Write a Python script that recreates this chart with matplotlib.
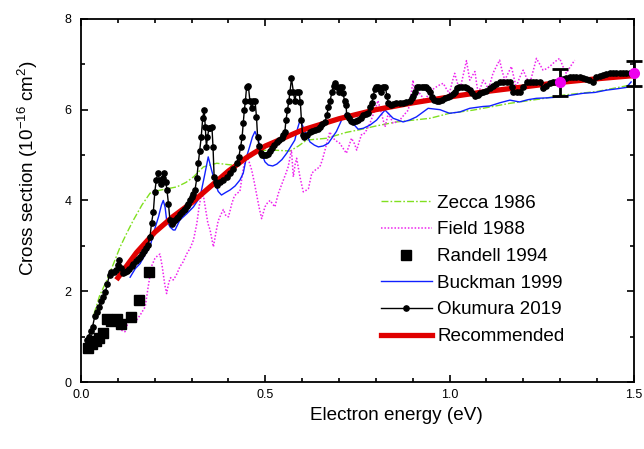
import matplotlib
matplotlib.use("Agg")
import matplotlib.pyplot as plt
from matplotlib.ticker import MultipleLocator, FormatStrFormatter

plt.rcParams['font.family'] = ['Liberation Sans', 'DejaVu Sans']
plt.rcParams['mathtext.fontset'] = 'custom'
plt.rcParams['mathtext.rm'] = 'Liberation Sans'

# --- data ---
zecca_x = [0.035, 0.05, 0.07, 0.09, 0.106, 0.125, 0.142, 0.165, 0.187, 0.21, 0.235, 0.26,
           0.285, 0.305, 0.332, 0.368, 0.41, 0.435, 0.46, 0.48, 0.52, 0.567, 0.59, 0.612,
           0.666, 0.72, 0.757, 0.8, 0.856, 0.947, 1.0, 1.064, 1.164, 1.25, 1.308, 1.4, 1.49]
zecca_y = [1.5, 1.9, 2.25, 2.65, 2.98, 3.3, 3.57, 3.9, 4.16, 4.22, 4.26, 4.3,
           4.4, 4.52, 4.74, 4.82, 4.78, 4.85, 4.96, 5.1, 5.11, 5.09, 5.2, 5.33,
           5.37, 5.5, 5.56, 5.64, 5.73, 5.81, 5.92, 5.99, 6.14, 6.24, 6.32, 6.4, 6.54]

field_x = [0.101, 0.110, 0.119, 0.127, 0.133, 0.142, 0.151, 0.162, 0.174, 0.182, 0.191, 0.200,
           0.207, 0.214, 0.220, 0.227, 0.232, 0.238, 0.243, 0.250, 0.258, 0.268, 0.277, 0.287,
           0.296, 0.305, 0.314, 0.320, 0.325, 0.332, 0.338, 0.344, 0.350, 0.359, 0.366, 0.372,
           0.380, 0.386, 0.393, 0.400, 0.409, 0.416, 0.422, 0.431, 0.440, 0.449, 0.456, 0.463,
           0.470, 0.476, 0.483, 0.490, 0.499, 0.506, 0.513, 0.520, 0.526, 0.535, 0.542, 0.549,
           0.556, 0.562, 0.567, 0.571, 0.576, 0.581, 0.585, 0.590, 0.594, 0.603, 0.610, 0.617,
           0.626, 0.637, 0.648, 0.655, 0.662, 0.668, 0.675, 0.682, 0.689, 0.702, 0.711, 0.720,
           0.727, 0.734, 0.742, 0.748, 0.755, 0.761, 0.766, 0.775, 0.784, 0.791, 0.797, 0.806,
           0.815, 0.825, 0.834, 0.847, 0.856, 0.865, 0.876, 0.888, 0.895, 0.901, 0.906, 0.912,
           0.919, 0.926, 0.933, 0.940, 0.947, 0.955, 0.964, 0.974, 0.983, 0.992, 1.000, 1.007,
           1.014, 1.021, 1.028, 1.037, 1.046, 1.055, 1.062, 1.069, 1.074, 1.078, 1.085, 1.091,
           1.100, 1.105, 1.118, 1.127, 1.136, 1.143, 1.150, 1.159, 1.168, 1.175, 1.181, 1.190,
           1.200, 1.209, 1.218, 1.227, 1.236, 1.245, 1.254, 1.263, 1.272, 1.285, 1.299, 1.308,
           1.317, 1.328, 1.340]
field_y = [1.18, 1.14, 1.11, 1.30, 1.37, 1.37, 1.37, 1.50, 1.66, 2.10, 2.55, 2.72,
           2.78, 2.82, 2.55, 2.15, 1.95, 2.20, 2.30, 2.25, 2.35, 2.54, 2.65, 2.83,
           2.95, 3.13, 3.49, 3.85, 4.08, 4.10, 3.80, 3.50, 3.35, 2.98, 3.30, 3.55,
           3.70, 3.80, 3.66, 3.64, 3.93, 4.10, 4.15, 4.20, 4.70, 5.00, 4.85, 4.67,
           4.40, 4.15, 3.85, 3.60, 3.86, 3.95, 4.00, 3.92, 3.86, 4.15, 4.30, 4.45,
           4.60, 4.74, 4.95, 5.11, 4.52, 4.80, 4.93, 4.70, 4.52, 4.19, 4.22, 4.26,
           4.60, 4.68, 4.74, 4.90, 5.11, 5.30, 5.51, 5.40, 5.33, 5.26, 5.15, 5.04,
           5.20, 5.37, 5.25, 5.11, 5.30, 5.45, 5.45, 5.55, 5.70, 5.85, 5.99, 6.20,
           5.92, 5.62, 5.92, 5.70, 5.73, 5.77, 5.88, 5.99, 6.30, 6.65, 6.29, 6.32,
           6.36, 6.28, 6.20, 6.30, 6.36, 6.45, 6.50, 6.55, 6.58, 6.45, 6.36, 6.60,
           6.80, 6.60, 6.43, 6.75, 7.08, 6.65, 6.75, 6.84, 6.55, 6.36, 6.50, 6.65,
           6.55, 6.43, 6.80, 6.95, 7.09, 6.85, 6.65, 6.80, 6.95, 6.70, 6.50, 6.70,
           6.87, 6.70, 6.58, 6.85, 7.13, 7.00, 6.87, 6.90, 6.95, 7.05, 7.13, 6.95,
           6.80, 6.95, 7.09]

randell_x = [0.019, 0.030, 0.039, 0.048, 0.059, 0.070, 0.082, 0.098, 0.109, 0.135, 0.158, 0.184]
randell_y = [0.76, 0.84, 0.91, 0.98, 1.09, 1.39, 1.34, 1.38, 1.28, 1.44, 1.81, 2.42]

buckman_x = [0.133, 0.147, 0.16, 0.173, 0.187, 0.196, 0.21, 0.218, 0.223, 0.228, 0.232, 0.241,
             0.25, 0.255, 0.268, 0.287, 0.305, 0.323, 0.336, 0.345, 0.354, 0.363, 0.372, 0.381,
             0.393, 0.404, 0.418, 0.431, 0.44, 0.449, 0.458, 0.465, 0.472, 0.481, 0.49, 0.499,
             0.508, 0.52, 0.531, 0.545, 0.558, 0.58, 0.588, 0.594, 0.601, 0.608, 0.621, 0.633,
             0.644, 0.657, 0.671, 0.693, 0.707, 0.719, 0.734, 0.752, 0.766, 0.784, 0.802, 0.815,
             0.825, 0.836, 0.847, 0.874, 0.891, 0.91, 0.942, 0.974, 1.0, 1.028, 1.055, 1.091,
             1.109, 1.136, 1.164, 1.19, 1.213, 1.236, 1.265, 1.299, 1.33, 1.362, 1.395, 1.426,
             1.455, 1.48, 1.493]
buckman_y = [2.31, 2.5, 2.61, 2.8, 2.98, 3.27, 3.64, 3.9, 4.0, 3.85, 3.57, 3.42,
             3.35, 3.35, 3.57, 3.71, 3.86, 4.08, 4.59, 4.96, 4.67, 4.41, 4.2, 4.12,
             4.18, 4.23, 4.32, 4.45, 4.6, 4.96, 5.2, 5.4, 5.52, 5.33, 5.04, 4.85,
             4.78, 4.76, 4.8, 4.9, 5.04, 5.33, 5.6, 5.76, 5.65, 5.52, 5.29, 5.22,
             5.18, 5.2, 5.26, 5.52, 5.77, 5.92, 5.73, 5.57, 5.59, 5.66, 5.77, 5.9,
             5.99, 5.9, 5.81, 5.73, 5.77, 5.84, 6.03, 6.0, 5.92, 5.95, 6.03, 6.07,
             6.08, 6.15, 6.21, 6.17, 6.22, 6.25, 6.26, 6.28, 6.32, 6.36, 6.38, 6.43,
             6.46, 6.49, 6.61]

okumura_x = [0.015, 0.020, 0.026, 0.031, 0.037, 0.043, 0.048, 0.054, 0.060, 0.066, 0.071, 0.077,
             0.082, 0.088, 0.094, 0.099, 0.104, 0.109, 0.114, 0.120, 0.125, 0.131, 0.137, 0.142,
             0.148, 0.153, 0.159, 0.164, 0.170, 0.176, 0.181, 0.187, 0.191, 0.196, 0.200, 0.204,
             0.208, 0.213, 0.217, 0.221, 0.226, 0.230, 0.233, 0.237, 0.241, 0.246, 0.250, 0.255,
             0.260, 0.264, 0.269, 0.273, 0.278, 0.282, 0.287, 0.291, 0.296, 0.300, 0.305, 0.309,
             0.314, 0.318, 0.322, 0.326, 0.330, 0.334, 0.337, 0.340, 0.343, 0.347, 0.351, 0.355,
             0.358, 0.361, 0.365, 0.368, 0.377, 0.386, 0.395, 0.404, 0.413, 0.422, 0.428, 0.433,
             0.437, 0.440, 0.443, 0.446, 0.449, 0.454, 0.458, 0.463, 0.467, 0.472, 0.476, 0.479,
             0.483, 0.487, 0.492, 0.497, 0.503, 0.508, 0.513, 0.518, 0.524, 0.531, 0.537, 0.544,
             0.549, 0.553, 0.556, 0.560, 0.564, 0.567, 0.571, 0.576, 0.580, 0.585, 0.591, 0.595,
             0.598, 0.601, 0.606, 0.612, 0.621, 0.628, 0.635, 0.642, 0.648, 0.655, 0.662, 0.667,
             0.671, 0.676, 0.681, 0.686, 0.690, 0.695, 0.700, 0.704, 0.708, 0.711, 0.715, 0.719,
             0.721, 0.726, 0.732, 0.739, 0.746, 0.752, 0.759, 0.766, 0.773, 0.779, 0.785, 0.789,
             0.793, 0.797, 0.801, 0.806, 0.811, 0.815, 0.820, 0.826, 0.830, 0.834, 0.840, 0.847,
             0.856, 0.865, 0.874, 0.883, 0.892, 0.897, 0.901, 0.906, 0.911, 0.918, 0.924, 0.931,
             0.937, 0.942, 0.947, 0.952, 0.958, 0.965, 0.972, 0.980, 0.988, 0.995, 1.002, 1.009,
             1.014, 1.020, 1.027, 1.034, 1.041, 1.048, 1.055, 1.062, 1.069, 1.076, 1.084, 1.091,
             1.100, 1.109, 1.118, 1.127, 1.136, 1.145, 1.155, 1.164, 1.169, 1.173, 1.182, 1.190,
             1.199, 1.209, 1.218, 1.227, 1.236, 1.245, 1.254, 1.263, 1.272, 1.281, 1.290, 1.299,
             1.308, 1.317, 1.326, 1.335, 1.344, 1.353, 1.362, 1.371, 1.380, 1.390, 1.399, 1.408,
             1.417, 1.426, 1.435, 1.444, 1.453, 1.462, 1.471, 1.480, 1.489, 1.498]
okumura_y = [0.92, 1.00, 1.12, 1.22, 1.45, 1.55, 1.66, 1.78, 1.88, 1.98, 2.17, 2.36,
             2.43, 2.43, 2.47, 2.58, 2.69, 2.52, 2.40, 2.42, 2.45, 2.50, 2.56, 2.61,
             2.66, 2.71, 2.76, 2.82, 2.88, 2.95, 3.03, 3.20, 3.50, 3.75, 4.19, 4.45,
             4.60, 4.45, 4.37, 4.50, 4.60, 4.40, 4.23, 3.93, 3.57, 3.49, 3.52, 3.57,
             3.61, 3.64, 3.70, 3.75, 3.79, 3.82, 3.88, 3.93, 4.00, 4.08, 4.15, 4.23,
             4.49, 4.82, 5.10, 5.40, 5.81, 6.00, 5.62, 5.18, 5.40, 5.59, 5.60, 5.62,
             5.18, 4.52, 4.41, 4.35, 4.40, 4.45, 4.52, 4.60, 4.70, 4.82, 4.96, 5.18,
             5.40, 5.70, 5.99, 6.20, 6.49, 6.52, 6.20, 6.03, 6.20, 6.20, 5.84, 5.40,
             5.20, 5.05, 5.00, 5.00, 5.00, 5.03, 5.08, 5.15, 5.22, 5.29, 5.33, 5.37,
             5.45, 5.51, 5.77, 5.99, 6.20, 6.40, 6.69, 6.40, 6.20, 6.40, 6.40, 6.17,
             5.77, 5.44, 5.40, 5.45, 5.51, 5.53, 5.55, 5.58, 5.62, 5.68, 5.73, 5.88,
             6.06, 6.20, 6.40, 6.52, 6.58, 6.51, 6.40, 6.51, 6.51, 6.36, 6.20, 6.10,
             5.88, 5.81, 5.76, 5.73, 5.75, 5.77, 5.82, 5.88, 5.90, 5.92, 6.05, 6.15,
             6.30, 6.45, 6.50, 6.50, 6.45, 6.40, 6.50, 6.50, 6.30, 6.14, 6.10, 6.12,
             6.14, 6.14, 6.14, 6.16, 6.20, 6.25, 6.30, 6.40, 6.50, 6.50, 6.50, 6.50,
             6.50, 6.45, 6.38, 6.29, 6.22, 6.20, 6.20, 6.22, 6.25, 6.28, 6.30, 6.35,
             6.40, 6.48, 6.50, 6.50, 6.50, 6.47, 6.43, 6.37, 6.30, 6.33, 6.36, 6.38,
             6.42, 6.48, 6.52, 6.56, 6.60, 6.61, 6.61, 6.60, 6.50, 6.40, 6.40, 6.40,
             6.50, 6.60, 6.61, 6.61, 6.61, 6.60, 6.47, 6.52, 6.58, 6.60, 6.61, 6.64,
             6.68, 6.70, 6.71, 6.71, 6.71, 6.71, 6.70, 6.68, 6.66, 6.61, 6.71, 6.74,
             6.77, 6.79, 6.80, 6.80, 6.80, 6.80, 6.80, 6.80, 6.80, 6.80]

rec_x = [0.1, 0.15, 0.2, 0.25, 0.3, 0.35, 0.4, 0.45, 0.5, 0.6, 0.7, 0.8, 0.9, 1.0,
         1.1, 1.2, 1.3, 1.4, 1.5]
rec_y = [2.3, 2.85, 3.3, 3.65, 3.95, 4.3, 4.65, 4.95, 5.2, 5.55, 5.8, 6.0, 6.15, 6.28,
         6.4, 6.5, 6.6, 6.68, 6.75]

err_x = [1.3, 1.5]
err_y = [6.6, 6.8]
err_e = [0.29, 0.28]

fig = plt.figure(figsize=(6.44, 4.49), dpi=100)
ax = fig.add_axes([0.126, 0.149, 0.858, 0.809])

ax.plot(zecca_x, zecca_y, color='#80e020', lw=1.0, ls=(0, (5, 1.5, 1.2, 1.5)),
        label='Zecca 1986', zorder=2)
ax.plot(field_x, field_y, color='#ee22ee', lw=1.1, ls=(0, (1, 1.2)),
        label='Field 1988', zorder=2)
ax.plot(randell_x, randell_y, 's', color='black', ms=6.5, label='Randell 1994', zorder=3)
ax.plot(buckman_x, buckman_y, color='#1020ff', lw=1.0, label='Buckman 1999', zorder=3)
ax.plot(okumura_x, okumura_y, '-o', color='black', lw=1.0, ms=3.8,
        label='Okumura 2019', zorder=5)
ax.plot(rec_x, rec_y, color='#e00000', lw=3.8, label='Recommended', zorder=4)
ax.errorbar(err_x, err_y, yerr=err_e, fmt='o', color='black', ecolor='black',
            mfc='#ee00ee', mec='#ee00ee', ms=7, elinewidth=2, capsize=6, capthick=2,
            zorder=6, clip_on=False)

ax.set_xlim(0, 1.5)
ax.set_ylim(0, 8)
ax.xaxis.set_major_locator(MultipleLocator(0.5))
ax.xaxis.set_minor_locator(MultipleLocator(0.1))
ax.yaxis.set_major_locator(MultipleLocator(2))
ax.yaxis.set_minor_locator(MultipleLocator(1))
ax.xaxis.set_major_formatter(FormatStrFormatter('%.1f'))
ax.tick_params(which='both', direction='in', top=True, right=True, labelsize=9, width=1.2)
ax.tick_params(which='major', length=5)
ax.tick_params(which='minor', length=3)
ax.tick_params(axis='x', pad=5)
ax.tick_params(axis='y', pad=7)
for s in ax.spines.values():
    s.set_linewidth(1.3)

ax.set_xlabel('Electron energy (eV)', fontsize=13.6, va='center')
ax.xaxis.set_label_coords(0.57, -0.091)
ax.set_ylabel(r'Cross section (10$^{-16}$ cm$^{2}$)', fontsize=13.6, va='center')
ax.yaxis.set_label_coords(-0.096, 0.59)

ax.legend(loc='upper left', bbox_to_anchor=(0.529, 0.537), frameon=False, fontsize=13.6,
          handlelength=2.7, handletextpad=0.27, labelspacing=0.5, numpoints=1,
          borderaxespad=0)

fig.savefig('out.png', dpi=100)
